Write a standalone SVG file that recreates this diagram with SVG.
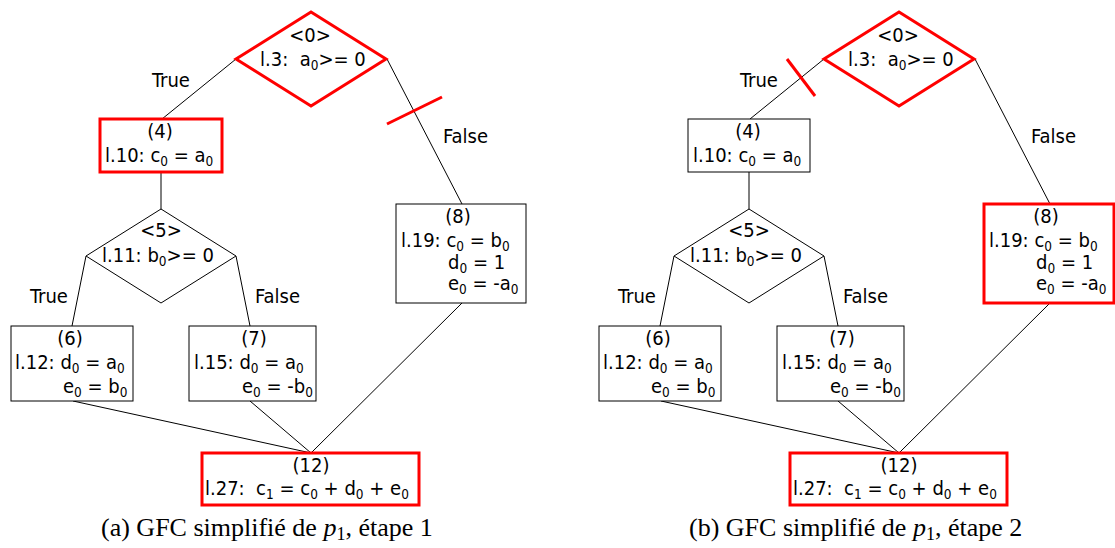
<svg xmlns="http://www.w3.org/2000/svg" width="1115" height="548" viewBox="0 0 1115 548">
<style>
.n{fill:#fff;stroke:#000;stroke-width:1}
.r{fill:#fff;stroke:#f00;stroke-width:3}
.e{fill:none;stroke:#000;stroke-width:1}
.x{fill:none;stroke:#f00;stroke-width:3}
text{font-family:"DejaVu Sans Condensed","DejaVu Sans",sans-serif;font-stretch:condensed;font-size:20px;fill:#000}
.m{text-anchor:middle}
.s{font-size:13.5px}
text.c{font-family:"Liberation Serif","Times New Roman",serif;font-stretch:normal;font-size:26px}
</style>
<rect width="1115" height="548" fill="#fff"/>

<!-- (a) -->
<g id="fig-a">
<g id="a-edges">
<line class="e" x1="236" y1="59" x2="162" y2="119"/>
<line class="e" x1="387" y1="59" x2="462" y2="204"/>
<line class="e" x1="161" y1="172" x2="161" y2="209"/>
<line class="e" x1="86" y1="256" x2="72" y2="326"/>
<line class="e" x1="236" y1="256" x2="250" y2="326"/>
<line class="e" x1="73" y1="401" x2="311" y2="453"/>
<line class="e" x1="250" y1="401" x2="311" y2="453"/>
<line class="e" x1="462" y1="303" x2="311" y2="453"/>
<line class="x" x1="387" y1="124" x2="442" y2="97"/>
<text x="152" y="87">True</text>
<text x="443" y="143">False</text>
<text x="30" y="303">True</text>
<text x="255" y="303">False</text>
</g>
<g id="a-n0">
<polygon class="r" points="311,12 386,59 311,106 236,59"/>
<text class="m" x="310" y="42">&lt;0&gt;</text>
<text x="260" y="66" xml:space="preserve">l.3:  a<tspan class="s" dy="4">0</tspan><tspan dy="-4">&gt;= 0</tspan></text>
</g>
<g id="a-n4">
<rect class="r" x="100" y="119" width="122" height="53"/>
<text class="m" x="160" y="138">(4)</text>
<text x="105" y="162">l.10: c<tspan class="s" dy="4">0</tspan><tspan dy="-4"> = a</tspan><tspan class="s" dy="4">0</tspan></text>
</g>
<g id="a-n5">
<polygon class="n" points="161,209 236,256 161,303 86,256"/>
<text class="m" x="161" y="237">&lt;5&gt;</text>
<text x="102" y="262">l.11: b<tspan class="s" dy="4">0</tspan><tspan dy="-4">&gt;= 0</tspan></text>
</g>
<g id="a-n6">
<rect class="n" x="11" y="326" width="122" height="75"/>
<text class="m" x="70" y="345">(6)</text>
<text x="15" y="369">l.12: d<tspan class="s" dy="4">0</tspan><tspan dy="-4"> = a</tspan><tspan class="s" dy="4">0</tspan></text>
<text x="63" y="393">e<tspan class="s" dy="4">0</tspan><tspan dy="-4"> = b</tspan><tspan class="s" dy="4">0</tspan></text>
</g>
<g id="a-n7">
<rect class="n" x="189" y="326" width="127" height="75"/>
<text class="m" x="254" y="345">(7)</text>
<text x="194" y="369">l.15: d<tspan class="s" dy="4">0</tspan><tspan dy="-4"> = a</tspan><tspan class="s" dy="4">0</tspan></text>
<text x="242" y="393">e<tspan class="s" dy="4">0</tspan><tspan dy="-4"> = -b</tspan><tspan class="s" dy="4">0</tspan></text>
</g>
<g id="a-n8">
<rect class="n" x="396" y="204" width="130" height="99"/>
<text class="m" x="458" y="223">(8)</text>
<text x="401" y="247">l.19: c<tspan class="s" dy="4">0</tspan><tspan dy="-4"> = b</tspan><tspan class="s" dy="4">0</tspan></text>
<text x="448" y="269">d<tspan class="s" dy="4">0</tspan><tspan dy="-4"> = 1</tspan></text>
<text x="448" y="290">e<tspan class="s" dy="4">0</tspan><tspan dy="-4"> = -a</tspan><tspan class="s" dy="4">0</tspan></text>
</g>
<g id="a-n12">
<rect class="r" x="202" y="453" width="217" height="52"/>
<text class="m" x="311" y="472">(12)</text>
<text x="205" y="495" xml:space="preserve">l.27:  c<tspan class="s" dy="4">1</tspan><tspan dy="-4"> = c</tspan><tspan class="s" dy="4">0</tspan><tspan dy="-4"> + d</tspan><tspan class="s" dy="4">0</tspan><tspan dy="-4"> + e</tspan><tspan class="s" dy="4">0</tspan></text>
</g>
<text id="cap-a" class="c" x="101" y="536">(a) GFC simplifié de <tspan font-style="italic">p</tspan><tspan font-size="18" dy="4">1</tspan><tspan dy="-4">, étape 1</tspan></text>
</g>

<!-- (b) -->
<g id="fig-b" transform="translate(588,0)">
<g id="b-edges">
<line class="e" x1="236" y1="59" x2="162" y2="119"/>
<line class="e" x1="387" y1="59" x2="462" y2="204"/>
<line class="e" x1="161" y1="172" x2="161" y2="209"/>
<line class="e" x1="86" y1="256" x2="72" y2="326"/>
<line class="e" x1="236" y1="256" x2="250" y2="326"/>
<line class="e" x1="73" y1="401" x2="311" y2="453"/>
<line class="e" x1="250" y1="401" x2="311" y2="453"/>
<line class="e" x1="462" y1="303" x2="311" y2="453"/>
<line class="x" x1="199" y1="59" x2="227" y2="96"/>
<text x="152" y="87">True</text>
<text x="443" y="143">False</text>
<text x="30" y="303">True</text>
<text x="255" y="303">False</text>
</g>
<g id="b-n0">
<polygon class="r" points="311,12 386,59 311,106 236,59"/>
<text class="m" x="310" y="42">&lt;0&gt;</text>
<text x="260" y="66" xml:space="preserve">l.3:  a<tspan class="s" dy="4">0</tspan><tspan dy="-4">&gt;= 0</tspan></text>
</g>
<g id="b-n4">
<rect class="n" x="100" y="119" width="122" height="53"/>
<text class="m" x="160" y="138">(4)</text>
<text x="105" y="162">l.10: c<tspan class="s" dy="4">0</tspan><tspan dy="-4"> = a</tspan><tspan class="s" dy="4">0</tspan></text>
</g>
<g id="b-n5">
<polygon class="n" points="161,209 236,256 161,303 86,256"/>
<text class="m" x="161" y="237">&lt;5&gt;</text>
<text x="102" y="262">l.11: b<tspan class="s" dy="4">0</tspan><tspan dy="-4">&gt;= 0</tspan></text>
</g>
<g id="b-n6">
<rect class="n" x="11" y="326" width="122" height="75"/>
<text class="m" x="70" y="345">(6)</text>
<text x="15" y="369">l.12: d<tspan class="s" dy="4">0</tspan><tspan dy="-4"> = a</tspan><tspan class="s" dy="4">0</tspan></text>
<text x="63" y="393">e<tspan class="s" dy="4">0</tspan><tspan dy="-4"> = b</tspan><tspan class="s" dy="4">0</tspan></text>
</g>
<g id="b-n7">
<rect class="n" x="189" y="326" width="127" height="75"/>
<text class="m" x="254" y="345">(7)</text>
<text x="194" y="369">l.15: d<tspan class="s" dy="4">0</tspan><tspan dy="-4"> = a</tspan><tspan class="s" dy="4">0</tspan></text>
<text x="242" y="393">e<tspan class="s" dy="4">0</tspan><tspan dy="-4"> = -b</tspan><tspan class="s" dy="4">0</tspan></text>
</g>
<g id="b-n8">
<rect class="r" x="396" y="204" width="130" height="99"/>
<text class="m" x="458" y="223">(8)</text>
<text x="401" y="247">l.19: c<tspan class="s" dy="4">0</tspan><tspan dy="-4"> = b</tspan><tspan class="s" dy="4">0</tspan></text>
<text x="448" y="269">d<tspan class="s" dy="4">0</tspan><tspan dy="-4"> = 1</tspan></text>
<text x="448" y="290">e<tspan class="s" dy="4">0</tspan><tspan dy="-4"> = -a</tspan><tspan class="s" dy="4">0</tspan></text>
</g>
<g id="b-n12">
<rect class="r" x="202" y="453" width="217" height="52"/>
<text class="m" x="311" y="472">(12)</text>
<text x="205" y="495" xml:space="preserve">l.27:  c<tspan class="s" dy="4">1</tspan><tspan dy="-4"> = c</tspan><tspan class="s" dy="4">0</tspan><tspan dy="-4"> + d</tspan><tspan class="s" dy="4">0</tspan><tspan dy="-4"> + e</tspan><tspan class="s" dy="4">0</tspan></text>
</g>
<text id="cap-b" class="c" x="101" y="536">(b) GFC simplifié de <tspan font-style="italic">p</tspan><tspan font-size="18" dy="4">1</tspan><tspan dy="-4">, étape 2</tspan></text>
</g>
</svg>
